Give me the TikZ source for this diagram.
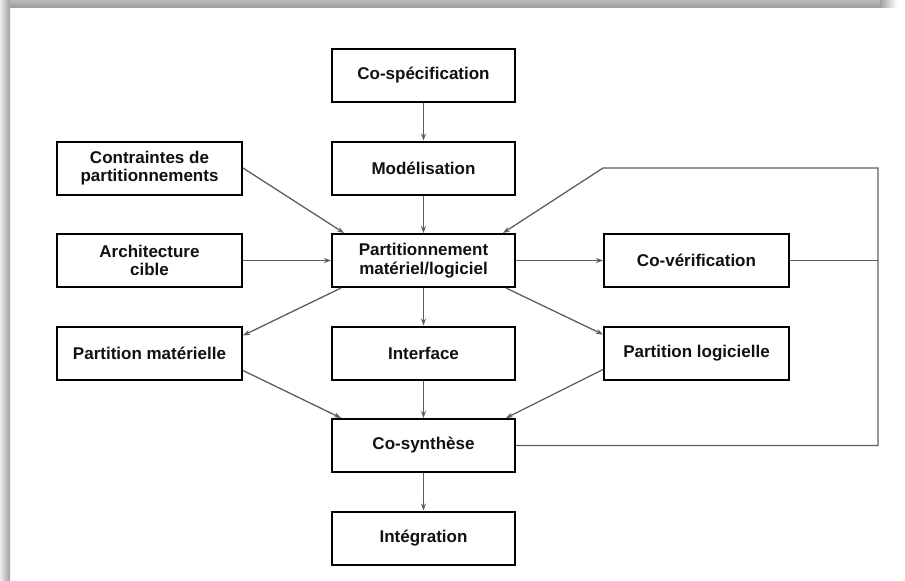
\documentclass[tikz,border=0pt]{standalone}
\usepackage{fontspec}
\setmainfont{Liberation Sans}
\usetikzlibrary{arrows.meta,calc}
\definecolor{arrowgray}{HTML}{5E5E5E}
\definecolor{boxtext}{HTML}{111111}
\begin{document}
\begin{tikzpicture}[x=1pt,y=-1pt,
  stepbox/.style={draw=black,line width=2pt,fill=white,minimum width=183pt,minimum height=53pt,
    inner sep=0pt,align=center,text=boxtext,font=\bfseries\fontsize{17}{18.5}\selectfont},
  conn/.style={draw=arrowgray,line width=1.3pt,-{Stealth[length=7pt,width=5pt]}},
  plain/.style={draw=arrowgray,line width=1.3pt}]
\useasboundingbox (0,0) rectangle (905,581);
% page shadow
\shade[left color=white!85!gray,right color=gray!75] (0,7) rectangle (10,581);
\shade[top color=gray!55,bottom color=gray!75] (0,0) rectangle (897,7);
\shade[left color=gray!75,right color=white] (880,0) rectangle (897,7);
\shade[top color=white!85!gray,bottom color=gray!75,left color=white!85!gray,right color=gray!75] (0,0) rectangle (10,7);
% nodes
\node[stepbox] (cospec) at (423.5,75.5) {Co-spécification};
\node[stepbox] (model)  at (423.5,168) {Modélisation};
\node[stepbox,minimum width=185pt] (contr) at (149.5,168) {Contraintes de\\partitionnements};
\node[stepbox] (part)   at (423.5,260.5) {Partitionnement\\matériel/logiciel};
\node[stepbox,minimum width=185pt] (arch) at (149.5,260.5) {Architecture\\cible};
\node[stepbox,minimum width=185pt] (cover) at (696.5,260.5) {Co-vérification};
\node[stepbox,minimum width=185pt] (pmat) at (149.5,353) {Partition matérielle};
\node[stepbox] (interf) at (423.5,353) {Interface};
\node[stepbox,minimum width=185pt] (plog) at (696.5,353) {Partition logicielle};
\node[stepbox] (cosyn)  at (423.5,445.5) {Co-synthèse};
\node[stepbox] (integ)  at (423.5,538) {Intégration};
% loop coordinates
\coordinate (lt) at (878,168);
\coordinate (lb) at (878,445.5);
\coordinate (ld) at (603,168);
% connectors
\draw[conn] (cospec.south) -- (model.north);
\draw[conn] (model.south) -- (part.north);
\draw[conn] (contr.east) -- ($(part.north west)+(13,0)$);
\draw[conn] (arch.east) -- (part.west);
\draw[conn] (part.east) -- (cover.west);
\draw[plain] (cover.east) -- (cover.east -| lt);
\draw[conn] (cosyn.east) -- (lb) -- (lt) -- (ld) -- ($(part.north east)+(-13,0)$);
\draw[conn] ($(part.south west)+(10,0)$) -- ($(pmat.north east)+(0,10)$);
\draw[conn] ($(part.south east)+(-10,0)$) -- ($(plog.north west)+(0,9)$);
\draw[conn] (part.south) -- (interf.north);
\draw[conn] (interf.south) -- (cosyn.north);
\draw[conn] ($(pmat.south east)+(0,-10)$) -- ($(cosyn.north west)+(10,0)$);
\draw[conn] ($(plog.south west)+(0,-11)$) -- ($(cosyn.north east)+(-10,0)$);
\draw[conn] (cosyn.south) -- (integ.north);
\end{tikzpicture}
\end{document}
